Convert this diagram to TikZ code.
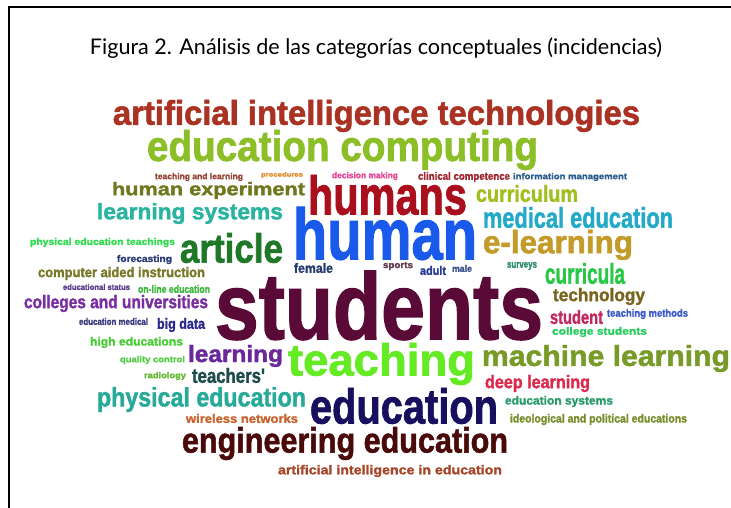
\documentclass[tikz,border=0pt]{standalone}
\usepackage{fontspec}
\usepackage{graphicx}
\newfontfamily\cloudfont{Liberation Sans}[FakeBold=1.6]
\newfontfamily\titlefont{Lato}
\definecolor{cA}{RGB}{170,50,35}
\definecolor{cB}{RGB}{140,190,40}
\definecolor{cC}{RGB}{150,70,55}
\definecolor{cD}{RGB}{225,140,40}
\definecolor{cE}{RGB}{230,70,150}
\definecolor{cF}{RGB}{160,40,50}
\definecolor{cG}{RGB}{40,90,140}
\definecolor{cH}{RGB}{170,15,30}
\definecolor{cI}{RGB}{110,120,30}
\definecolor{cJ}{RGB}{160,190,30}
\definecolor{cK}{RGB}{40,180,160}
\definecolor{cL}{RGB}{35,170,200}
\definecolor{cM}{RGB}{25,90,235}
\definecolor{cN}{RGB}{195,155,40}
\definecolor{cO}{RGB}{50,220,80}
\definecolor{cP}{RGB}{30,120,40}
\definecolor{cQ}{RGB}{45,60,120}
\definecolor{cR}{RGB}{40,60,110}
\definecolor{cS}{RGB}{100,60,80}
\definecolor{cT}{RGB}{40,60,150}
\definecolor{cU}{RGB}{60,80,140}
\definecolor{cV}{RGB}{40,140,110}
\definecolor{cW}{RGB}{40,200,70}
\definecolor{cX}{RGB}{120,120,40}
\definecolor{cY}{RGB}{90,10,55}
\definecolor{cZ}{RGB}{90,60,140}
\definecolor{dA}{RGB}{60,185,60}
\definecolor{dB}{RGB}{120,100,30}
\definecolor{dC}{RGB}{120,45,160}
\definecolor{dD}{RGB}{60,90,200}
\definecolor{dE}{RGB}{195,40,95}
\definecolor{dF}{RGB}{60,60,130}
\definecolor{dG}{RGB}{40,40,140}
\definecolor{dH}{RGB}{40,205,95}
\definecolor{dI}{RGB}{70,205,50}
\definecolor{dJ}{RGB}{100,235,35}
\definecolor{dK}{RGB}{120,155,40}
\definecolor{dL}{RGB}{105,40,155}
\definecolor{dM}{RGB}{85,205,70}
\definecolor{dN}{RGB}{100,185,50}
\definecolor{dO}{RGB}{30,75,75}
\definecolor{dP}{RGB}{220,40,75}
\definecolor{dQ}{RGB}{40,170,155}
\definecolor{dR}{RGB}{25,15,95}
\definecolor{dS}{RGB}{40,155,105}
\definecolor{dT}{RGB}{200,100,45}
\definecolor{dU}{RGB}{120,140,40}
\definecolor{dV}{RGB}{75,10,10}
\definecolor{dW}{RGB}{165,70,40}
\tikzset{word/.style={inner sep=0pt,outer sep=0pt},
  framerule/.style={line width=1.6pt,black}}
% name, colour, x1, x2, y1, y2, text
\newcommand\cloudword[7]{%
  \node[word,text=#2] (#1) at ({(#3+#4)/2},{(#5+#6)/2})
   {\resizebox*{\the\numexpr#4-#3\relax pt}{\the\numexpr#6-#5\relax pt}{\cloudfont\bfseries #7}};}
\begin{document}
\begin{tikzpicture}[x=1pt,y=-1pt]
\useasboundingbox (0,0) rectangle (731,508);
\fill[white] (0,0) rectangle (731,508);
\coordinate (fb) at (9,508);
\coordinate (fc) at (9,7);
\coordinate (fr) at (731,7);
\draw[framerule] (fb) -- (fc) -- (fr);
\node[word,anchor=base] (title) at (376,55)
  {\resizebox{572pt}{!}{\titlefont Figura 2. Análisis de las categorías conceptuales (incidencias)}};
\cloudword{w1}{cA}{113}{640}{100}{132}{artificial intelligence technologies}
\cloudword{w2}{cB}{147}{538}{130}{170}{education computing}
\cloudword{w3}{cC}{155}{243}{173}{181}{teaching and learning}
\cloudword{w4}{cD}{261}{303}{172}{178}{procedures}
\cloudword{w5}{cE}{332}{398}{172}{180}{decision making}
\cloudword{w6}{cF}{418}{510}{172}{182}{clinical competence}
\cloudword{w7}{cG}{513}{627}{173}{181}{information management}
\cloudword{w8}{cH}{308}{467}{175}{215}{humans}
\cloudword{w9}{cI}{112}{305}{182}{199}{human experiment}
\cloudword{w10}{cJ}{476}{578}{185}{202}{curriculum}
\cloudword{w11}{cK}{97}{283}{203}{224}{learning systems}
\cloudword{w12}{cL}{483}{673}{207}{228}{medical education}
\cloudword{w13}{cM}{293}{477}{207}{260}{human}
\cloudword{w14}{cN}{483}{633}{230}{260}{e-learning}
\cloudword{w15}{cO}{30}{175}{238}{247}{physical education teachings}
\cloudword{w16}{cP}{180}{283}{233}{263}{article}
\cloudword{w17}{cQ}{117}{172}{255}{264}{forecasting}
\cloudword{w18}{cR}{294}{333}{263}{273}{female}
\cloudword{w19}{cS}{383}{413}{262}{270}{sports}
\cloudword{w20}{cT}{420}{446}{266}{275}{adult}
\cloudword{w21}{cU}{452}{472}{265}{272}{male}
\cloudword{w22}{cV}{507}{537}{262}{270}{surveys}
\cloudword{w23}{cW}{545}{625}{263}{284}{curricula}
\cloudword{w24}{cX}{38}{205}{267}{280}{computer aided instruction}
\cloudword{w25}{cY}{215}{543}{271}{340}{students}
\cloudword{w26}{cZ}{63}{130}{284}{290}{educational status}
\cloudword{w27}{dA}{138}{210}{285}{293}{on-line education}
\cloudword{w28}{dB}{553}{645}{288}{305}{technology}
\cloudword{w29}{dC}{24}{208}{295}{312}{colleges and universities}
\cloudword{w30}{dD}{607}{688}{309}{319}{teaching methods}
\cloudword{w31}{dE}{550}{603}{310}{324}{student}
\cloudword{w32}{dF}{79}{148}{318}{325}{education medical}
\cloudword{w33}{dG}{157}{205}{318}{332}{big data}
\cloudword{w34}{dH}{552}{647}{327}{337}{college students}
\cloudword{w35}{dI}{90}{183}{337}{348}{high educations}
\cloudword{w36}{dJ}{288}{475}{343}{385}{teaching}
\cloudword{w37}{dK}{482}{730}{345}{372}{machine learning}
\cloudword{w38}{dL}{188}{283}{345}{367}{learning}
\cloudword{w39}{dM}{120}{185}{356}{364}{quality control}
\cloudword{w40}{dN}{144}{186}{372}{380}{radiology}
\cloudword{w41}{dO}{192}{265}{368}{383}{teachers'}
\cloudword{w42}{dP}{485}{590}{375}{392}{deep learning}
\cloudword{w43}{dQ}{97}{306}{387}{412}{physical education}
\cloudword{w44}{dR}{310}{498}{388}{424}{education}
\cloudword{w45}{dS}{505}{613}{396}{407}{education systems}
\cloudword{w46}{dT}{186}{298}{414}{423}{wireless networks}
\cloudword{w47}{dU}{510}{687}{414}{425}{ideological and political educations}
\cloudword{w48}{dV}{182}{508}{427}{460}{engineering education}
\cloudword{w49}{dW}{278}{502}{465}{477}{artificial intelligence in education}
\end{tikzpicture}
\end{document}
